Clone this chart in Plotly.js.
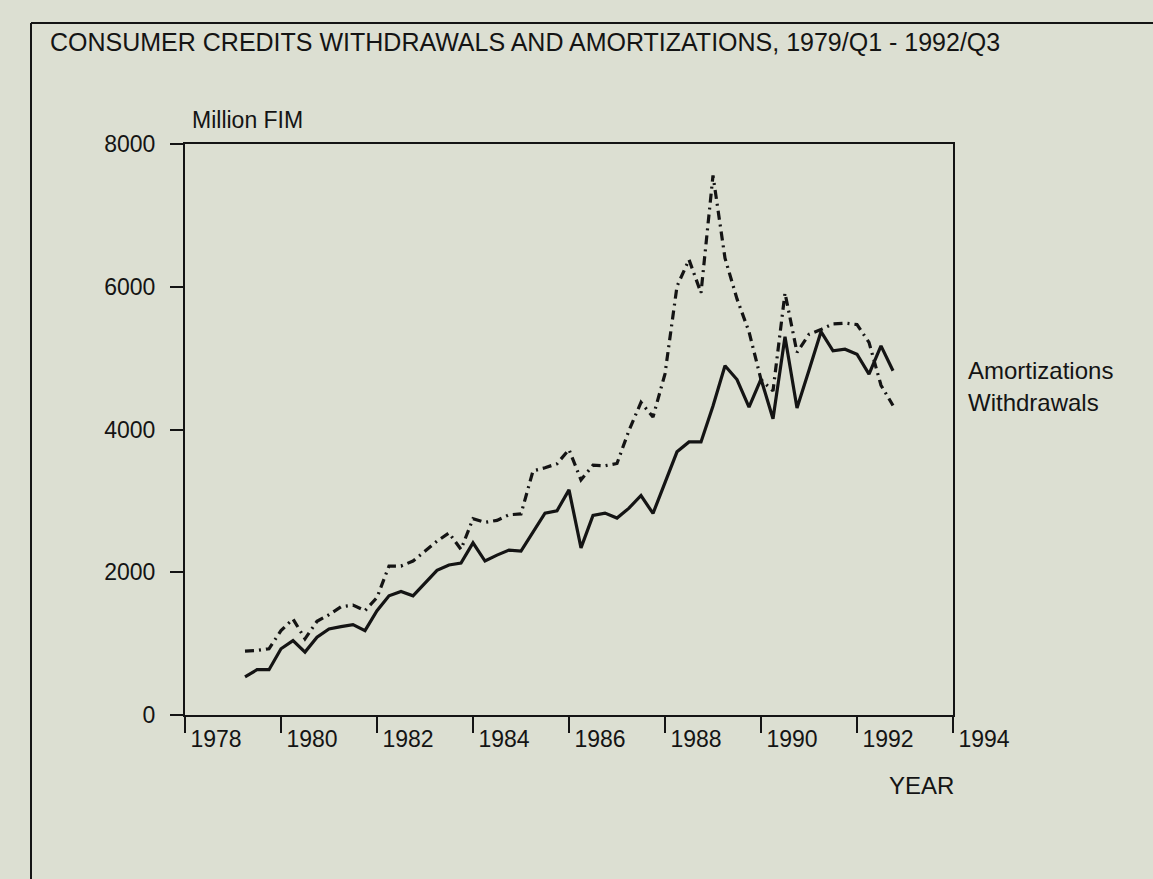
<!DOCTYPE html>
<html>
<head>
<meta charset="utf-8">
<script src="https://cdn.plot.ly/plotly-3.0.1.min.js"></script>
<style>
  html, body { margin: 0; padding: 0; background: #dcdfd2; }
  #chart { width: 1153px; height: 879px; }
</style>
</head>
<body>
<div id="chart"></div>
<script>
// ---- data (quarterly, 1979/Q1 - 1992/Q3), million FIM ----
const startYear = 1979;
const quarterCount = 55;
const amortizations = [
  533, 635, 635, 928, 1043, 881, 1090, 1206, 1238, 1266,
  1183, 1461, 1670, 1730, 1670, 1855, 2027, 2101, 2129, 2412,
  2157, 2240, 2310, 2296, 2560, 2829, 2862, 3154, 2342, 2797,
  2829, 2759, 2898, 3075, 2824, 3250, 3687, 3826, 3826, 4330,
  4893, 4700, 4313, 4707, 4151, 5300, 4300, 4830, 5370, 5102,
  5125, 5055, 4776, 5171, 4823
];
const withdrawals = [
  895, 904, 928, 1183, 1345, 1067, 1313, 1405, 1517, 1540,
  1461, 1646, 2087, 2087, 2157, 2296, 2435, 2551, 2319, 2750,
  2699, 2727, 2805, 2817, 3420, 3464, 3520, 3720, 3293, 3500,
  3492, 3524, 3988, 4380, 4174, 4780, 6006, 6380, 5913, 7560,
  6400, 5830, 5370, 4700, 4540, 5913, 5080, 5333, 5400, 5480,
  5490, 5470, 5220, 4620, 4336
];
const xTickVals = [1978, 1980, 1982, 1984, 1986, 1988, 1990, 1992, 1994];
const yTickVals = [0, 2000, 4000, 6000, 8000];
const seriesNames = ["Amortizations", "Withdrawals"];
const titleText = "CONSUMER CREDITS WITHDRAWALS AND AMORTIZATIONS, 1979/Q1 - 1992/Q3";
const yUnit = "Million FIM";
const xLabel = "YEAR";

// quarter positions (each quarter plotted at its end)
const quarterX = [];
for (let i = 0; i < quarterCount; i++) {
  const y = startYear + Math.floor(i / 4);
  const q = (i % 4) + 1;
  quarterX.push(y + q / 4);
}

// ---- layout geometry ----
const W = 1153, H = 879;
const L = 185, R = 953, T = 144, B = 715;
const pw = R - L, ph = B - T;
const px = v => (v - L) / pw;
const py = v => (B - v) / ph;

const FONT = "Liberation Sans, Arial, Helvetica, sans-serif";
const INK = "#141414";
const BG = "#dcdfd2";

const traces = [
  {
    x: quarterX, y: amortizations, name: seriesNames[0],
    type: "scatter", mode: "lines",
    line: { color: INK, width: 3.2, dash: "solid" },
    showlegend: false, hoverinfo: "x+y+name"
  },
  {
    x: quarterX, y: withdrawals, name: seriesNames[1],
    type: "scatter", mode: "lines",
    line: { color: INK, width: 3.2, dash: "9px,5px,2px,5px" },
    showlegend: false, hoverinfo: "x+y+name"
  }
];

const layout = {
  width: W, height: H, autosize: false,
  paper_bgcolor: BG, plot_bgcolor: BG,
  margin: { l: L, r: W - R, t: T, b: H - B, pad: 0 },
  font: { family: FONT, color: INK, size: 23 },
  xaxis: {
    range: [1978, 1994], tickvals: xTickVals,
    ticktext: xTickVals.map(String),
    showgrid: false, zeroline: false,
    showline: true, linecolor: INK, linewidth: 2, mirror: true,
    ticks: "outside", ticklen: 16, tickwidth: 2, tickcolor: INK,
    ticklabelshift: 31, ticklabelstandoff: -14,
    tickfont: { family: FONT, size: 23, color: INK }
  },
  yaxis: {
    range: [0, 8000], tickvals: yTickVals,
    ticktext: yTickVals.map(String),
    showgrid: false, zeroline: false,
    showline: true, linecolor: INK, linewidth: 2, mirror: true,
    ticks: "outside", ticklen: 13, tickwidth: 2, tickcolor: INK,
    ticklabelstandoff: 10,
    tickfont: { family: FONT, size: 23, color: INK }
  },
  shapes: [
    { type: "line", xref: "paper", yref: "paper", x0: px(31), y0: py(H + 5), x1: px(31), y1: py(23),
      line: { color: INK, width: 2 } },
    { type: "line", xref: "paper", yref: "paper", x0: px(31), y0: py(23), x1: px(W + 5), y1: py(23),
      line: { color: INK, width: 2 } }
  ],
  annotations: [
    { text: titleText, xref: "paper", yref: "paper", x: px(48), y: py(42),
      xanchor: "left", yanchor: "middle", showarrow: false,
      font: { family: FONT, size: 25, color: INK } },
    { text: yUnit, xref: "paper", yref: "paper", x: px(190), y: py(120),
      xanchor: "left", yanchor: "middle", showarrow: false,
      font: { family: FONT, size: 23, color: INK } },
    { text: xLabel, xref: "paper", yref: "paper", x: px(956), y: py(785),
      xanchor: "right", yanchor: "middle", showarrow: false,
      font: { family: FONT, size: 24, color: INK } },
    { text: seriesNames[0], xref: "paper", yref: "paper", x: px(966), y: py(370),
      xanchor: "left", yanchor: "middle", showarrow: false,
      font: { family: FONT, size: 24, color: INK } },
    { text: seriesNames[1], xref: "paper", yref: "paper", x: px(966), y: py(402),
      xanchor: "left", yanchor: "middle", showarrow: false,
      font: { family: FONT, size: 24, color: INK } }
  ]
};

Plotly.newPlot("chart", traces, layout, { displayModeBar: false, staticPlot: true });
</script>
</body>
</html>
